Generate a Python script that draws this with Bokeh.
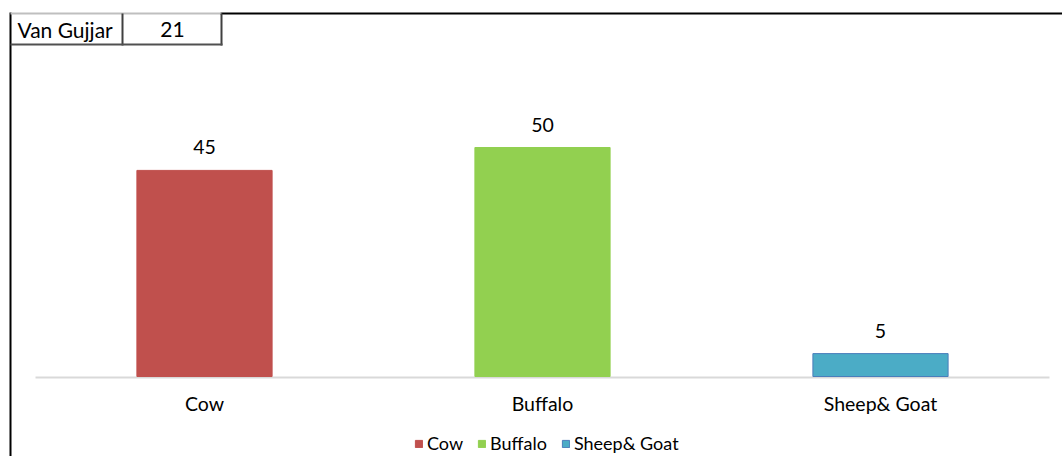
from bokeh.plotting import figure
from bokeh.models import (ColumnDataSource, Range1d, LabelSet, Legend,
                          LegendItem, BoxAnnotation, Label)
from bokeh.core.properties import value
from bokeh.embed import file_html
from bokeh.resources import INLINE

categories = ["Cow", "Buffalo", "Sheep& Goat"]
values = [45, 50, 5]
colors = ["#C0504D", "#92D050", "#4BACC6"]
outline = ["#C0504D", "#92D050", "#4A7EBB"]
table_label = "Van Gujjar"
table_value = "21"

FONT = "Lato"
W, H = 1062, 456
# layout of plot area (pixels)
BASE_Y = 376          # pixel row of value 0
PX_PER_UNIT = 4.58    # vertical scale
FIRST_X = 204         # pixel centre of first category
STEP = 338            # pixels between categories

p = figure(width=W, height=H, output_backend="svg", toolbar_location=None,
           x_axis_type=None, y_axis_type=None,
           x_range=Range1d(-FIRST_X / STEP, (W - FIRST_X) / STEP),
           y_range=Range1d(-(H - BASE_Y) / PX_PER_UNIT, BASE_Y / PX_PER_UNIT),
           min_border=0, min_border_left=0, min_border_right=0,
           min_border_top=0, min_border_bottom=0)
p.outline_line_color = None
p.background_fill_color = "white"
p.border_fill_color = "white"
p.grid.visible = False

idx = list(range(len(categories)))
src = ColumnDataSource(dict(x=idx, cat=categories, val=values, color=colors,
                            line=outline, lbl=[str(v) for v in values],
                            zero=[0] * len(values)))

# baseline (category axis line)
p.add_layout(BoxAnnotation(left=35, right=1049, top=BASE_Y, bottom=BASE_Y + 2,
                           left_units="canvas", right_units="canvas",
                           top_units="canvas", bottom_units="canvas",
                           fill_color="#D9D9D9", fill_alpha=1, line_color=None,
                           level="underlay"))

r = p.vbar(x="x", top="val", bottom="zero", width=0.4, source=src,
           fill_color="color", line_color="line", line_width=1)

p.add_layout(LabelSet(x="x", y="val", text="lbl", source=src, y_offset=16,
                      text_align="center", text_baseline="alphabetic",
                      text_font=value(FONT), text_font_size="19.5px",
                      text_color="#000000"))

p.add_layout(LabelSet(x="x", y="zero", text="cat", source=src, y_offset=-34,
                      text_align="center", text_baseline="alphabetic",
                      text_font=value(FONT), text_font_size="19.5px",
                      text_color="#000000"))

legend = Legend(items=[LegendItem(label=c, renderers=[r], index=i)
                       for i, c in enumerate(categories)],
                orientation="horizontal", location=(414, 2),
                label_text_font=FONT, label_text_font_size="18px",
                label_text_color="#000000",
                glyph_width=9, glyph_height=9, spacing=14, label_standoff=4,
                border_line_color=None, background_fill_alpha=0, margin=0, padding=0)
p.add_layout(legend)


def box(l, r_, t, b, color):
    p.add_layout(BoxAnnotation(left=l, right=r_, top=t, bottom=b,
                               left_units="canvas", right_units="canvas",
                               top_units="canvas", bottom_units="canvas",
                               fill_color=color, fill_alpha=1, line_color=None))


# chart border and the small table
box(9, 11, 12, 456, "black")          # left border of chart area
box(220, 1062, 12, 14, "black")       # top border of chart area
box(10, 221, 12, 14, "#BFBFBF")       # table top
box(121, 123, 13, 45, "#404040")      # table divider
box(220, 222, 13, 45, "#404040")      # table right
box(10, 222, 43, 45, "#505050")       # table bottom

p.add_layout(Label(x=17, y=29, x_units="canvas", y_units="canvas", text=table_label,
                   text_font=FONT, text_font_size="21px", text_baseline="middle",
                   text_color="#000000"))
p.add_layout(Label(x=172, y=29, x_units="canvas", y_units="canvas", text=table_value,
                   text_font=FONT, text_font_size="21px", text_baseline="middle",
                   text_align="center", text_color="#000000"))

html = file_html(p, INLINE)
open("out.html", "w").write(html)
